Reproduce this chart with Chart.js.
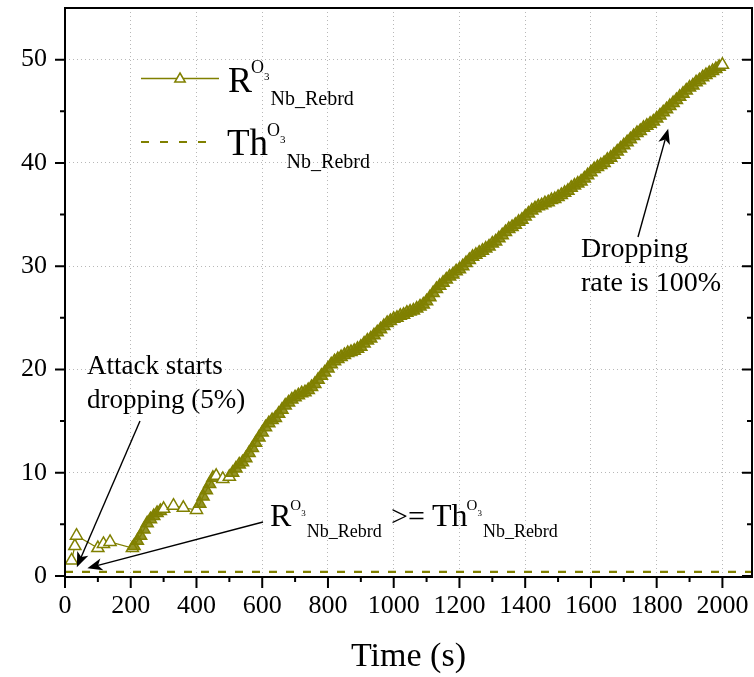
<!DOCTYPE html>
<html>
<head>
<meta charset="utf-8">
<script src="https://cdn.jsdelivr.net/npm/chart.js@4.4.0/dist/chart.umd.min.js"></script>
<style>
  html, body { margin: 0; padding: 0; background: #fff; }
  #wrap { width: 754px; height: 677px; }
</style>
</head>
<body>
<div id="wrap"><canvas id="ratioChart" width="754" height="677"></canvas></div>
<script>
const timeS = [
  20, 30, 35, 100, 117, 137, 205,
  210, 220, 230, 240, 250, 260, 270, 280, 290, 300,
  330, 360,
  400, 410, 420, 430, 440, 450,
  460, 480, 500,
  510, 520, 530, 540, 550, 560, 570, 580, 590, 600,
  610, 620, 630, 640, 650, 660, 670, 680, 690, 700,
  710, 720, 730, 740, 750, 760, 770, 780, 790, 800,
  810, 820, 830, 840, 850, 860, 870, 880, 890, 900,
  910, 920, 930, 940, 950, 960, 970, 980, 990, 1000,
  1010, 1020, 1030, 1040, 1050, 1060, 1070, 1080, 1090, 1100,
  1110, 1120, 1130, 1140, 1150, 1160, 1170, 1180, 1190, 1200,
  1210, 1220, 1230, 1240, 1250, 1260, 1270, 1280, 1290, 1300,
  1310, 1320, 1330, 1340, 1350, 1360, 1370, 1380, 1390, 1400,
  1410, 1420, 1430, 1440, 1450, 1460, 1470, 1480, 1490, 1500,
  1510, 1520, 1530, 1540, 1550, 1560, 1570, 1580, 1590, 1600,
  1610, 1620, 1630, 1640, 1650, 1660, 1670, 1680, 1690, 1700,
  1710, 1720, 1730, 1740, 1750, 1760, 1770, 1780, 1790, 1800,
  1810, 1820, 1830, 1840, 1850, 1860, 1870, 1880, 1890, 1900,
  1910, 1920, 1930, 1940, 1950, 1960, 1970, 1980, 1990, 2000
];
const ratioR = [
  1.5, 2.9, 3.9, 2.7, 3.1, 3.3, 2.7,
  2.9, 3.4, 3.9, 4.5, 5.1, 5.5, 5.8, 6.1, 6.3, 6.5,
  6.8, 6.6,
  6.4, 7.0, 7.7, 8.3, 8.9, 9.5,
  9.7, 9.4, 9.6,
  10.0, 10.4, 10.8, 11.0, 11.4, 11.9, 12.4, 12.9, 13.4, 13.9,
  14.4, 14.8, 15.1, 15.3, 15.7, 16.1, 16.5, 16.8, 17.1, 17.3,
  17.5, 17.7, 17.8, 18.0, 18.3, 18.6, 19.0, 19.4, 19.7, 20.1,
  20.5, 20.8, 21.0, 21.2, 21.4, 21.6, 21.7, 21.8, 22.0, 22.2,
  22.5, 22.8, 23.0, 23.3, 23.6, 23.9, 24.2, 24.5, 24.7, 24.9,
  25.0, 25.2, 25.3, 25.5, 25.6, 25.7, 25.9, 26.1, 26.3, 26.6,
  27.0, 27.4, 27.8, 28.1, 28.4, 28.7, 29.0, 29.2, 29.5, 29.7,
  30.0, 30.3, 30.6, 30.9, 31.1, 31.3, 31.5, 31.7, 31.9, 32.2,
  32.4, 32.7, 33.0, 33.3, 33.6, 33.8, 34.0, 34.3, 34.5, 34.8,
  35.1, 35.4, 35.6, 35.8, 35.9, 36.1, 36.2, 36.4, 36.5, 36.7,
  36.9, 37.1, 37.3, 37.6, 37.8, 38.0, 38.2, 38.5, 38.8, 39.1,
  39.4, 39.6, 39.8, 40.0, 40.3, 40.5, 40.8, 41.1, 41.4, 41.7,
  42.0, 42.3, 42.6, 42.9, 43.1, 43.4, 43.6, 43.8, 44.0, 44.3,
  44.6, 44.9, 45.2, 45.5, 45.8, 46.1, 46.4, 46.7, 47.0, 47.3,
  47.5, 47.8, 48.0, 48.3, 48.5, 48.7, 48.9, 49.1, 49.3, 49.5
];

// limiar Th (constante)
const thTime = [0, 2090];
const thValue = [0.4, 0.4];

// marcas dos eixos
const xMajorTicks = [0, 200, 400, 600, 800, 1000, 1200, 1400, 1600, 1800, 2000];
const xMinorTicks = [100, 300, 500, 700, 900, 1100, 1300, 1500, 1700, 1900];
const yMajorTicks = [0, 10, 20, 30, 40, 50];
const yMinorTicks = [5, 15, 25, 35, 45];

const OLIVE = '#808000';
const SERIF = '"Liberation Serif", "Times New Roman", serif';

// setas: início em pixels (junto ao texto), ponta em coordenadas de dados
const arrowTips = [
  { from: [140, 421], to: [36, 0.85] },
  { from: [263, 522], to: [68, 0.75] },
  { from: [638, 237], to: [1835, 43.3] }
];

function drawArrow(ctx, x1, y1, x2, y2) {
  const ang = Math.atan2(y2 - y1, x2 - x1);
  const len = 15, half = 6, notch = 4;
  ctx.save();
  ctx.strokeStyle = '#000';
  ctx.fillStyle = '#000';
  ctx.lineWidth = 1.4;
  ctx.beginPath();
  ctx.moveTo(x1, y1);
  ctx.lineTo(x2 - Math.cos(ang) * (len - notch), y2 - Math.sin(ang) * (len - notch));
  ctx.stroke();
  ctx.translate(x2, y2);
  ctx.rotate(ang);
  ctx.beginPath();
  ctx.moveTo(0, 0);
  ctx.lineTo(-len, -half);
  ctx.lineTo(-len + notch, 0);
  ctx.lineTo(-len, half);
  ctx.closePath();
  ctx.fill();
  ctx.restore();
}

// texto com sobrescrito e subscrito (R^O3_Nb_Rebrd)
function drawRich(ctx, x, y, parts) {
  let cx = x;
  parts.forEach(p => {
    ctx.font = p.size + 'px ' + SERIF;
    ctx.fillText(p.text, cx + (p.dx || 0), y + p.dy);
    cx += (p.dx || 0) + ctx.measureText(p.text).width;
  });
}

function symbolParts(base, big, supSize, subSize, scale) {
  return [
    { text: base, size: big, dy: 0 },
    { text: 'O', size: supSize, dy: -19 * scale, dx: -1 },
    { text: '3', size: Math.round(supSize * 0.6), dy: -12 * scale },
    { text: 'Nb_Rebrd', size: subSize, dy: 13 * scale, dx: 1 }
  ];
}

// pontos isolados ficam vazados; os densos formam a faixa cheia
function isSparse(i) {
  const gapPrev = i > 0 ? timeS[i] - timeS[i - 1] : 99;
  const gapNext = i < timeS.length - 1 ? timeS[i + 1] - timeS[i] : 99;
  return gapPrev > 15 || gapNext > 15 || timeS[i] < 200;
}

const decorPlugin = {
  id: 'decor',
  afterDraw(chart) {
    const ctx = chart.ctx;
    const a = chart.chartArea;
    const xs = chart.scales.x, ys = chart.scales.y;

    // moldura e marcas
    ctx.save();
    ctx.strokeStyle = '#000';
    ctx.lineWidth = 2;
    ctx.strokeRect(a.left, a.top, a.right - a.left, a.bottom - a.top);
    ctx.beginPath();
    yMajorTicks.forEach(v => {
      const py = ys.getPixelForValue(v);
      ctx.moveTo(a.left - 10, py); ctx.lineTo(a.left, py);
      ctx.moveTo(a.right, py); ctx.lineTo(a.right - 10, py);
    });
    yMinorTicks.forEach(v => {
      const py = ys.getPixelForValue(v);
      ctx.moveTo(a.left - 5, py); ctx.lineTo(a.left, py);
      ctx.moveTo(a.right, py); ctx.lineTo(a.right - 5, py);
    });
    xMajorTicks.forEach(v => {
      const px = xs.getPixelForValue(v);
      ctx.moveTo(px, a.bottom); ctx.lineTo(px, a.bottom + 11);
    });
    xMinorTicks.forEach(v => {
      const px = xs.getPixelForValue(v);
      ctx.moveTo(px, a.bottom); ctx.lineTo(px, a.bottom + 5);
    });
    ctx.stroke();
    ctx.restore();

    // legenda
    ctx.save();
    ctx.strokeStyle = OLIVE;
    ctx.lineWidth = 1.5;
    ctx.beginPath();
    ctx.moveTo(141, 78.5); ctx.lineTo(219, 78.5);
    ctx.stroke();
    ctx.fillStyle = '#fff';
    ctx.beginPath();
    ctx.moveTo(180, 73); ctx.lineTo(185.2, 82); ctx.lineTo(174.8, 82); ctx.closePath();
    ctx.fill(); ctx.stroke();
    ctx.lineWidth = 2.2;
    ctx.setLineDash([8, 11]);
    ctx.beginPath();
    ctx.moveTo(141, 142); ctx.lineTo(207, 142);
    ctx.stroke();
    ctx.setLineDash([]);
    ctx.fillStyle = '#000';
    ctx.textBaseline = 'alphabetic';
    ctx.textAlign = 'left';
    drawRich(ctx, 228, 92, symbolParts('R', 36, 18, 20, 1));
    drawRich(ctx, 227, 155, symbolParts('Th', 37, 18, 20, 1));

    // anotações
    ctx.font = '27px ' + SERIF;
    ctx.fillText('Attack starts', 87, 374);
    ctx.fillText('dropping (5%)', 87, 408);
    ctx.font = '28px ' + SERIF;
    ctx.fillText('Dropping', 581, 257);
    ctx.fillText('rate is 100%', 581, 291);
    drawRich(ctx, 270, 526, symbolParts('R', 32, 15, 18, 0.85));
    ctx.font = '30px ' + SERIF;
    ctx.fillText('>=', 391, 526);
    drawRich(ctx, 432, 526, symbolParts('Th', 32, 15, 18, 0.85));
    ctx.restore();

    arrowTips.forEach(ar => {
      drawArrow(ctx, ar.from[0], ar.from[1], xs.getPixelForValue(ar.to[0]), ys.getPixelForValue(ar.to[1]));
    });
  }
};

const ctx = document.getElementById('ratioChart').getContext('2d');

new Chart(ctx, {
  type: 'scatter',
  data: {
    datasets: [
      {
        label: 'R',
        data: timeS.map((t, i) => ({ x: t, y: ratioR[i] })),
        showLine: true,
        borderColor: OLIVE,
        borderWidth: 1.2,
        pointStyle: 'triangle',
        pointRadius: 7,
        pointBorderWidth: 1.5,
        pointBorderColor: OLIVE,
        pointBackgroundColor: c => isSparse(c.dataIndex) ? '#fff' : 'rgba(128,128,0,0.85)',
        pointHoverRadius: 7
      },
      {
        label: 'Th',
        data: thTime.map((t, i) => ({ x: t, y: thValue[i] })),
        showLine: true,
        borderColor: OLIVE,
        borderWidth: 2.2,
        borderDash: [8, 9],
        pointRadius: 0
      }
    ]
  },
  options: {
    responsive: false,
    animation: false,
    events: [],
    layout: { autoPadding: false, padding: { top: 8, right: 2, left: 0, bottom: 0 } },
    plugins: { legend: { display: false }, tooltip: { enabled: false } },
    scales: {
      x: {
        type: 'linear',
        min: 0,
        max: 2090,
        afterBuildTicks: s => { s.ticks = xMajorTicks.map(v => ({ value: v })); },
        afterFit: s => { s.height = 100; s.paddingLeft = 0; s.paddingRight = 0; },
        grid: {
          drawTicks: false,
          color: c => (c.tick && c.tick.value === 0) ? 'rgba(0,0,0,0)' : '#b8b8b8',
          lineWidth: 1
        },
        border: { display: false, dash: [1, 3] },
        ticks: {
          padding: 14,
          color: '#000',
          maxRotation: 0,
          autoSkip: false,
          callback: v => String(v),
          font: { family: SERIF, size: 26 }
        },
        title: {
          display: true,
          text: 'Time (s)',
          color: '#000',
          padding: { top: 0, bottom: 0 },
          font: { family: SERIF, size: 34 }
        }
      },
      y: {
        type: 'linear',
        min: -0.1,
        max: 55,
        afterBuildTicks: s => { s.ticks = yMajorTicks.map(v => ({ value: v })); },
        afterFit: s => { s.width = 65; s.paddingTop = 0; s.paddingBottom = 0; },
        grid: {
          drawTicks: false,
          color: c => (c.tick && c.tick.value === 0) ? 'rgba(0,0,0,0)' : '#b8b8b8',
          lineWidth: 1
        },
        border: { display: false, dash: [1, 3] },
        ticks: {
          padding: 18,
          color: '#000',
          callback: v => String(v),
          font: { family: SERIF, size: 26 }
        }
      }
    }
  },
  plugins: [decorPlugin]
});
</script>
</body>
</html>
